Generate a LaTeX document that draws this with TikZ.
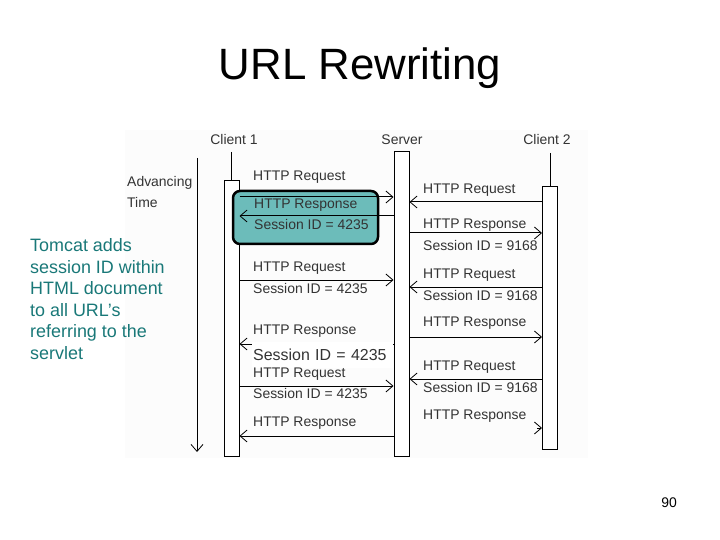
\documentclass[tikz,border=0pt]{standalone}
\usepackage{fontspec}
\setmainfont{Liberation Sans}
\usetikzlibrary{arrows.meta}
\definecolor{tealtext}{RGB}{25,120,120}
\definecolor{tealbox}{RGB}{108,188,186}
\begin{document}
\begin{tikzpicture}[x=1bp,y=-1bp,
  lifebox/.style={draw, line width=1bp, fill=white, inner sep=0, minimum width=15bp},
  msg/.style={line width=1bp, -{Straight Barb[length=7bp,width=12bp,line width=0.8bp]}},
  lbl/.style={anchor=west, inner sep=0, font=\fontsize{14}{16}\selectfont, text=black!80},
  hdr/.style={inner sep=0, font=\fontsize{14}{16}\selectfont, text=black!80}]
\useasboundingbox (0,0) rectangle (720,540);
% title
\node (title) at (360,68) {\fontsize{44}{50}\selectfont URL Rewriting};
% faint diagram background
\fill[black!1] (125,130) rectangle (588,458);
% left text
\node (note) [anchor=north west, inner sep=0, align=left, text=tealtext,
  font=\fontsize{18}{21.6}\selectfont] at (30,238.5)
  {Tomcat adds\\session ID within\\HTML document\\to all URL’s\\referring to the\\servlet};
% page number
\node (pg) at (669,503) {\fontsize{14}{16}\selectfont 90};
% headers
\node[hdr] (h1) at (234,140) {Client 1};
\node[hdr] (hs) at (402,140) {Server};
\node[hdr] (h2) at (547,140) {Client 2};
% advancing time
\node[lbl] (adv) at (127,183) {Advancing};
\node[lbl] (tim) at (127,203) {Time};
\coordinate (t0) at (197,158);
\coordinate (t1) at (197,452);
\draw[msg] (t0) -- (t1);
% lifelines
\coordinate (c1top) at (231.5,152);
\coordinate (c2top) at (550,153);
\node[lifebox, minimum height=275bp] (c1) at (231.5,318.5) {};
\node[lifebox, minimum height=304bp] (srv) at (401.5,304) {};
\node[lifebox, minimum height=262bp] (c2) at (550,318) {};
\draw[line width=1bp] (c1top) -- (c1.north);
\draw[line width=1bp] (c2top) -- (c2.north);
% highlight box
\draw[line width=2.5bp, fill=tealbox, rounded corners=7bp] (233,191) rectangle (378,244);
% messages client 1 side
\draw[msg] (c1.east |- 0,197) -- (srv.west |- 0,197);
\draw[msg] (srv.west |- 0,216) -- (c1.east |- 0,216);
\draw[msg] (c1.east |- 0,280) -- (srv.west |- 0,280);
\draw[msg] (srv.west |- 0,344) -- (c1.east |- 0,344);
\draw[msg] (c1.east |- 0,386) -- (srv.west |- 0,386);
\draw[msg] (srv.west |- 0,436) -- (c1.east |- 0,436);
% messages client 2 side
\draw[msg] (c2.west |- 0,202) -- (srv.east |- 0,202);
\draw[msg] (srv.east |- 0,233) -- (c2.west |- 0,233);
\draw[msg] (c2.west |- 0,287) -- (srv.east |- 0,287);
\draw[msg] (srv.east |- 0,337) -- (c2.west |- 0,337);
\draw[msg] (c2.west |- 0,379) -- (srv.east |- 0,379);
\coordinate (m11) at (537,428);
\draw[msg] (m11) -- (c2.west |- 0,428);
% labels client 1 side
\node[lbl] (l1) at (253,177) {HTTP Request};
\node[lbl] (l2) at (254,205) {HTTP Response};
\node[lbl] (l2b) at (254,225) {Session ID = 4235};
\node[lbl] (l5) at (253,268) {HTTP Request};
\node[lbl] (l5b) at (253,289) {Session ID = 4235};
\node[lbl] (l8) at (253,331) {HTTP Response};
\node[lbl, font=\fontsize{16}{18}\selectfont, fill=white, inner xsep=1bp, inner ysep=7bp,
  text width=139bp, align=left] (l8b) at (252,355) {Session ID = 4235};
\node[lbl] (l9) at (253,374) {HTTP Request};
\node[lbl] (l9b) at (253,394) {Session ID = 4235};
\node[lbl] (l12) at (253,423) {HTTP Response};
% labels client 2 side
\node[lbl] (r3) at (423,190) {HTTP Request};
\node[lbl] (r4) at (423,225) {HTTP Response};
\node[lbl] (r4b) at (423,246) {Session ID = 9168};
\node[lbl] (r6) at (423,275) {HTTP Request};
\node[lbl] (r6b) at (423,296) {Session ID = 9168};
\node[lbl] (r7) at (423,323) {HTTP Response};
\node[lbl] (r10) at (423,367) {HTTP Request};
\node[lbl] (r10b) at (423,388) {Session ID = 9168};
\node[lbl] (r11) at (423,416) {HTTP Response};
\end{tikzpicture}
\end{document}
